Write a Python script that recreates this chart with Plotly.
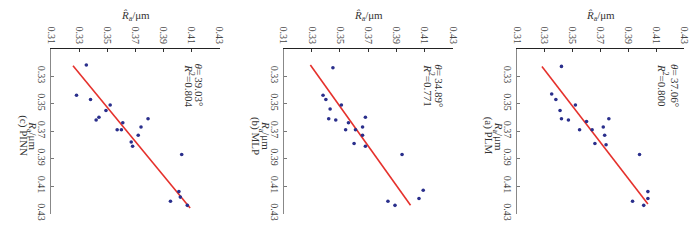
import plotly.graph_objects as go

# ---- data ----
# horizontal axis: predicted R̂a, vertical axis (downwards): measured Ra
panel_names = ["(c) PINN", "(b) MLP", "(a) PLM"]
theta_labels = ["39.03°", "34.89°", "37.06°"]
r2_labels = ["0.804", "0.771", "0.800"]

pinn_pred = [0.335, 0.328, 0.338, 0.352, 0.349, 0.344, 0.342, 0.379, 0.361, 0.374,
             0.357, 0.360, 0.372, 0.367, 0.368, 0.403, 0.401, 0.402, 0.395, 0.407]
pinn_meas = [0.322, 0.344, 0.347, 0.351, 0.355, 0.360, 0.362, 0.361, 0.364, 0.367,
             0.369, 0.369, 0.373, 0.378, 0.381, 0.387, 0.414, 0.418, 0.421, 0.424]

mlp_pred = [0.345, 0.338, 0.340, 0.351, 0.343, 0.368, 0.342, 0.347, 0.356, 0.366,
            0.354, 0.361, 0.366, 0.360, 0.368, 0.394, 0.409, 0.406, 0.384, 0.389]
mlp_meas = [0.324, 0.344, 0.347, 0.351, 0.354, 0.360, 0.361, 0.362, 0.364, 0.367,
            0.369, 0.369, 0.373, 0.379, 0.381, 0.387, 0.413, 0.419, 0.421, 0.424]

plm_pred = [0.342, 0.335, 0.338, 0.352, 0.341, 0.342, 0.347, 0.376, 0.360, 0.372,
            0.355, 0.364, 0.373, 0.366, 0.374, 0.398, 0.404, 0.404, 0.393, 0.401]
plm_meas = [0.323, 0.343, 0.347, 0.351, 0.355, 0.361, 0.362, 0.361, 0.363, 0.367,
            0.369, 0.369, 0.373, 0.379, 0.380, 0.387, 0.414, 0.419, 0.421, 0.424]

# fitted lines (endpoints)
pinn_fit_pred = [0.3255, 0.409]
pinn_fit_meas = [0.3225, 0.426]
mlp_fit_pred = [0.329, 0.400]
mlp_fit_meas = [0.322, 0.424]
plm_fit_pred = [0.328, 0.404]
plm_fit_meas = [0.323, 0.423]

tick_vals_h = [0.31, 0.33, 0.35, 0.37, 0.39, 0.41, 0.43]
tick_vals_v = [0.33, 0.35, 0.37, 0.39, 0.41, 0.43]
tick_text_h = ["0.31", "0.33", "0.35", "0.37", "0.39", "0.41", "0.43"]
tick_text_v = ["0.33", "0.35", "0.37", "0.39", "0.41", "0.43"]

preds = [pinn_pred, mlp_pred, plm_pred]
meas = [pinn_meas, mlp_meas, plm_meas]
fit_p = [pinn_fit_pred, mlp_fit_pred, plm_fit_pred]
fit_m = [pinn_fit_meas, mlp_fit_meas, plm_fit_meas]

# ---- layout ----
W, H = 700, 240
x_doms = [(47, 218), (283, 455), (520, 690)]
y_top, y_bot = 50, 220
theta_x = [197, 440, 680]
r2_x = [187, 430, 668]
font_family = "Liberation Serif, Times New Roman, serif"

fig = go.Figure()
layout = dict(
    width=W, height=H, margin=dict(l=0, r=0, t=0, b=0),
    paper_bgcolor="white", plot_bgcolor="white", showlegend=False,
    font=dict(family=font_family, size=10, color="#333"),
)
annotations = []


def ann(text, px, py, angle=0, xanchor="center", yanchor="middle", size=11):
    annotations.append(dict(
        text=text, x=px / W, y=1 - py / H, xref="paper", yref="paper",
        showarrow=False, xanchor=xanchor, yanchor=yanchor, textangle=angle,
        font=dict(family=font_family, size=size, color="#333")))


for i in range(3):
    xa = "x" if i == 0 else f"x{i+1}"
    ya = "y" if i == 0 else f"y{i+1}"
    fig.add_trace(go.Scatter(
        x=fit_p[i], y=fit_m[i], mode="lines",
        line=dict(color="#e5312c", width=1.6), xaxis=xa, yaxis=ya, hoverinfo="skip"))
    fig.add_trace(go.Scatter(
        x=preds[i], y=meas[i], mode="markers",
        marker=dict(color="#2a2f8c", size=3.6), xaxis=xa, yaxis=ya))

    xkey = "xaxis" if i == 0 else f"xaxis{i+1}"
    ykey = "yaxis" if i == 0 else f"yaxis{i+1}"
    x0, x1 = x_doms[i]
    layout[xkey] = dict(
        domain=[x0 / W, x1 / W], anchor=ya, side="top",
        range=[0.31, 0.43], tickvals=tick_vals_h, ticktext=tick_text_h,
        ticks="inside", ticklen=3, tickcolor="#333", tickangle=90,
        showline=True, linecolor="#222", linewidth=1, showgrid=False, zeroline=False,
        tickfont=dict(family=font_family, size=10, color="#444"),
    )
    layout[ykey] = dict(
        domain=[1 - y_bot / H, 1 - y_top / H], anchor=xa,
        range=[0.43, 0.31], tickvals=tick_vals_v, ticktext=tick_text_v,
        ticks="inside", ticklen=3, tickcolor="#777", tickangle=90,
        showline=True, linecolor="#888", linewidth=1, showgrid=False, zeroline=False,
        tickfont=dict(family=font_family, size=10, color="#444"),
    )
    cx = (x0 + x1) / 2
    ann("<i>R\u0302</i><sub>a</sub>/μm", cx, 16)
    ann("<i>R</i><sub>a</sub>/μm", x0 - 19, 140, angle=90)
    ann(panel_names[i], x0 - 29, 140, angle=90)
    ann(f"<i>θ</i>=\u2009{theta_labels[i]}", theta_x[i], 88, angle=90)
    ann(f"<i>R</i><sup>2</sup>={r2_labels[i]}", r2_x[i], 88, angle=90)

layout["annotations"] = annotations
fig.update_layout(**layout)
fig.write_html("out.html")
